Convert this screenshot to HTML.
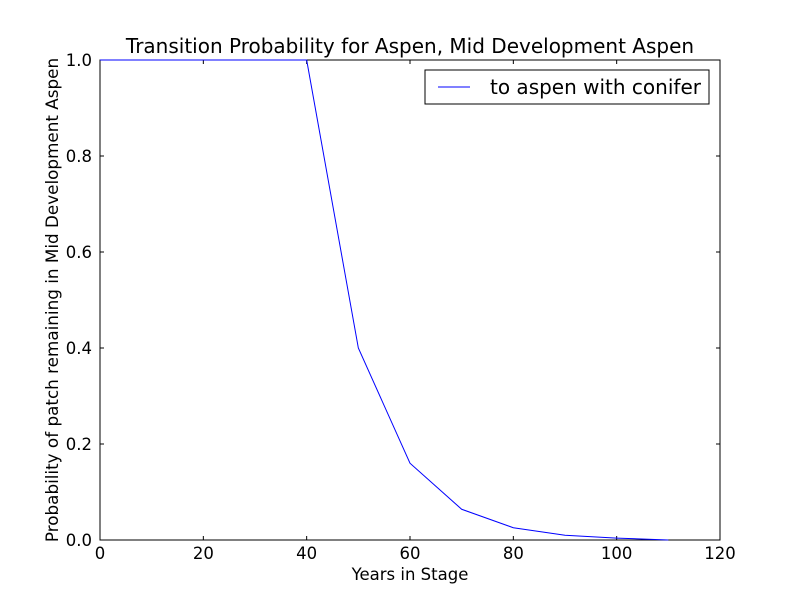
<!DOCTYPE html>
<html><head><meta charset="utf-8">
<style>
body{margin:0;background:#fff;}
svg{display:block;font-family:"DejaVu Sans","Liberation Sans",sans-serif;}
</style></head>
<body>
<svg id="chart" width="800" height="600">
<rect width="800" height="600" fill="#fff"/>
<rect x="100" y="60" width="620" height="480" fill="none" stroke="#000" stroke-width="1"/>
<g id="ticks"></g>
<polyline id="series" fill="none" stroke="#0000ff" stroke-width="1"/>
<text x="410" y="53" font-size="20" text-anchor="middle">Transition Probability for Aspen, Mid Development Aspen</text>
<text x="410" y="580" font-size="16.5" text-anchor="middle">Years in Stage</text>
<text transform="translate(58,300) rotate(-90)" font-size="16.8" text-anchor="middle">Probability of patch remaining in Mid Development Aspen</text>
<g>
<rect x="425" y="70" width="284" height="34" fill="#fff" stroke="#000" stroke-width="1"/>
<line x1="438" y1="87" x2="470" y2="87" stroke="#0000ff"/>
<text x="490" y="94" font-size="20">to aspen with conifer</text>
</g>
</svg>
<script>
const years = [0,10,20,30,40,50,60,70,80,90,100,110];
const probs = [1,1,1,1,1,0.4,0.16,0.064,0.0256,0.01,0.004,0.0];
const xTicks = [0,20,40,60,80,100,120];
const yTicks = [0.0,0.2,0.4,0.6,0.8,1.0];
const X0=100,X1=720,Y0=540,Y1=60;
function sx(v){return X0+(v-0)/(120-0)*(X1-X0);}
function sy(v){return Y0-(v-0)/(1-0)*(Y0-Y1);}
const ns="http://www.w3.org/2000/svg";
const g=document.getElementById('ticks');
function mk(tag,attrs){const e=document.createElementNS(ns,tag);for(const k in attrs)e.setAttribute(k,attrs[k]);return e;}
xTicks.forEach(t=>{
  const x=sx(t);
  const a=mk('line',{x1:x,y1:Y0,x2:x,y2:Y0-4,stroke:'#000'});
  
  
  g.appendChild(a);
  const b=mk('line',{x1:x,y1:Y1,x2:x,y2:Y1+4,stroke:'#000'});
  
  
  g.appendChild(b);
  const tx=mk('text',{x:x,y:559,'font-size':16.5,'text-anchor':'middle'});
  tx.textContent=String(t);
  
  
  g.appendChild(tx);
});
yTicks.forEach(t=>{
  const y=sy(t);
  const a=mk('line',{x1:X0,y1:y,x2:X0+4,y2:y,stroke:'#000'});
  
  
  g.appendChild(a);
  const b=mk('line',{x1:X1,y1:y,x2:X1-4,y2:y,stroke:'#000'});
  
  
  g.appendChild(b);
  const tx=mk('text',{x:92,y:y+6,'font-size':16.5,'text-anchor':'end'});
  tx.textContent=t.toFixed(1);
  
  
  g.appendChild(tx);
});
document.getElementById('series').setAttribute('points',years.map((v,i)=>sx(v)+','+sy(probs[i])).join(' '));
</script>
</body></html>
